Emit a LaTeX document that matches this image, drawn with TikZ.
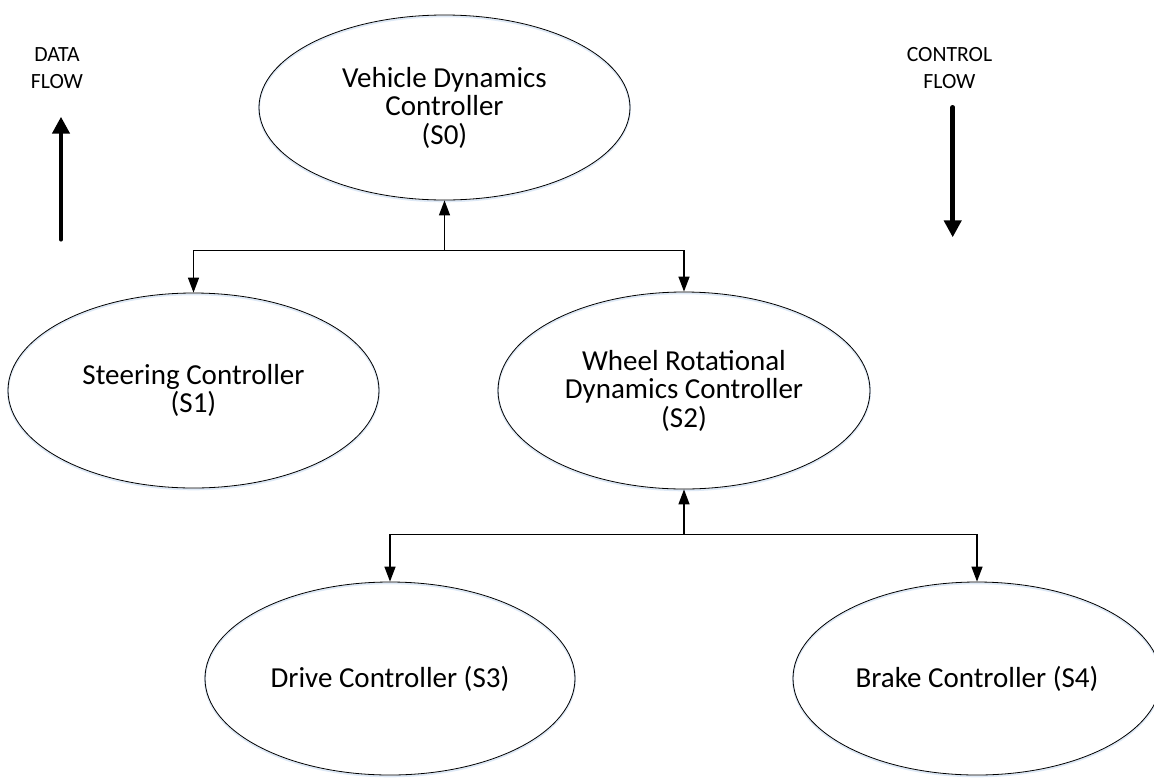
\documentclass[tikz,border=0pt]{standalone}
\usepackage{fontspec}
\setmainfont{Carlito}
\usetikzlibrary{arrows.meta,shapes.geometric}

\definecolor{haze}{RGB}{222,233,246}

\tikzset{
  ctrl/.style={ellipse, draw=black, line width=0.8pt, inner sep=0pt,
    align=center, font=\fontsize{29}{28.5}\selectfont,
    preaction={draw=haze, line width=2pt, transform canvas={yshift=-1.3pt}}},
  link/.style={line width=1.4pt, -{Triangle[length=15pt,width=11pt]}},
  flow/.style={line width=4.6pt, line cap=round, -{Triangle[length=17pt,width=17pt]}},
  flowlabel/.style={align=center, inner sep=0pt, font=\fontsize{21.7}{26.6}\selectfont}
}

\begin{document}
\begin{tikzpicture}[x=1pt, y=-1pt]
  \useasboundingbox (0,0) rectangle (1154,777);

  % controllers
  \node[ctrl, minimum width=371pt, minimum height=185pt] (s0) at (444.5,107.5)
    {Vehicle Dynamics\\Controller\\(S0)};
  \node[ctrl, minimum width=371pt, minimum height=195pt] (s1) at (193.5,390.5)
    {Steering Controller\\(S1)};
  \node[ctrl, minimum width=372pt, minimum height=197pt] (s2) at (684,390.5)
    {Wheel Rotational\\Dynamics Controller\\(S2)};
  \node[ctrl, minimum width=370pt, minimum height=193pt] (s3) at (390,678.5)
    {Drive Controller (S3)};
  \node[ctrl, minimum width=368pt, minimum height=193pt] (s4) at (977,678.5)
    {Brake Controller (S4)};

  % branch points of the connectors
  \coordinate (j1) at (444.5,250.7);
  \coordinate (j2) at (684,534.5);

  \draw[link] (j1) -- (s0.south);
  \draw[link] (j1) -| (s1.north);
  \draw[link] (j1) -| (s2.north);

  \draw[link] (j2) -- (s2.south);
  \draw[link] (j2) -| (s3.north);
  \draw[link] (j2) -| (s4.north);

  % flow direction legend
  \node[flowlabel] (dlab) at (57,68) {DATA\\FLOW};
  \coordinate (d0) at (61,239.3);
  \coordinate (d1) at (61,116.7);
  \draw[flow] (d0) -- (d1);

  \node[flowlabel] (clab) at (949.5,68) {CONTROL\\FLOW};
  \coordinate (c0) at (952.7,107.3);
  \coordinate (c1) at (952.7,237.3);
  \draw[flow] (c0) -- (c1);
\end{tikzpicture}
\end{document}
